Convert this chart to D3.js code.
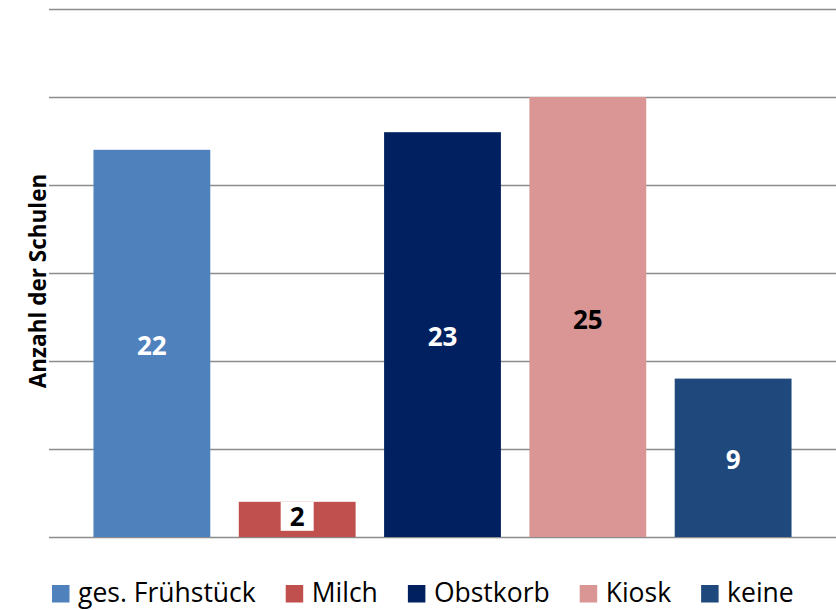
<!DOCTYPE html>
<html><head><meta charset="utf-8">
<script src="https://cdn.jsdelivr.net/npm/d3@7"></script>
<style>body{margin:0;background:#fff}svg{display:block}</style>
</head><body>
<svg id="chart" width="836" height="610"></svg>
<script>
const categories = ["ges. Frühstück", "Milch", "Obstkorb", "Kiosk", "keine"];
const values = [22, 2, 23, 25, 9];
const colors = ["#4F81BD", "#C0504D", "#002060", "#D99694", "#1F497D"];
const labelColors = ["#fff", "#000", "#fff", "#000", "#fff"];
const yTicks = [0, 5, 10, 15, 20, 25, 30];
const yTitle = "Anzahl der Schulen";

const svg = d3.select("#chart");
const font = "'Open Sans', sans-serif";
const x = d3.scaleBand().domain(categories).range([49, 836]).paddingInner(0.196).paddingOuter(0.306);
const y = d3.scaleLinear().domain([0, 30]).range([537, 9]);

// gridlines
svg.append("g").selectAll("line").data(yTicks).join("line")
  .attr("x1", 49).attr("x2", 836)
  .attr("y1", d => Math.round(y(d)) + 0.5).attr("y2", d => Math.round(y(d)) + 0.5)
  .attr("stroke", "#8c8c8c").attr("stroke-width", 1.6);

// bars
svg.append("g").selectAll("rect").data(values).join("rect")
  .attr("x", (d, i) => x(categories[i]))
  .attr("width", x.bandwidth())
  .attr("y", d => y(d))
  .attr("height", d => y(0) - y(d))
  .attr("fill", (d, i) => colors[i]);

// labels
const lg = svg.append("g");
values.forEach((v, i) => {
  const cx = x(categories[i]) + x.bandwidth() / 2;
  const cy = (y(v) + y(0)) / 2;
  const t = lg.append("text").attr("x", cx).attr("y", cy + 1.5)
    .attr("text-anchor", "middle").attr("dominant-baseline", "central")
    .attr("font-family", font).attr("font-weight", "bold").attr("font-size", 26)
    .attr("fill", labelColors[i]).text(v);
  if (v < 5) {
    lg.insert("rect", "text").attr("x", cx - 16.5).attr("y", y(v))
      .attr("width", 33).attr("height", 29).attr("fill", "#fff");
    t.attr("y", y(v) + 14.5);
  }
});

// y title
svg.append("text").attr("transform", "translate(46,281) rotate(-90)")
  .attr("text-anchor", "middle").attr("font-family", font).attr("font-weight", "bold")
  .attr("font-size", 22.5).attr("fill", "#000").text(yTitle);

// legend
const legend = svg.append("g");
let lx = 52;
categories.forEach((c, i) => {
  legend.append("rect").attr("x", lx).attr("y", 585).attr("width", 17.5).attr("height", 17.5).attr("fill", colors[i]);
  const t = legend.append("text").attr("x", lx + 26).attr("y", 602)
    .attr("font-family", font).attr("font-size", 26.5).attr("fill", "#000").text(c);
  lx += 26 + t.node().getComputedTextLength() + 30;
});
</script>
</body></html>
